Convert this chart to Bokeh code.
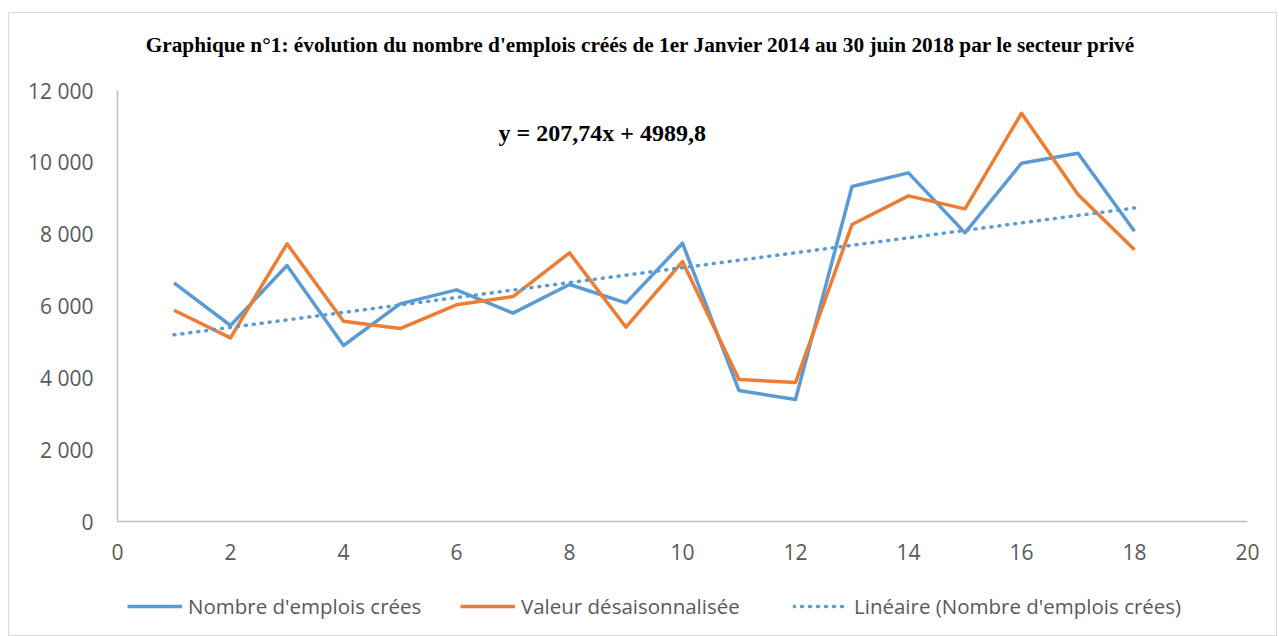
from bokeh.plotting import figure
from bokeh.layouts import column
from bokeh.models import Range1d, FixedTicker, Label, Legend, LegendItem
from bokeh.embed import file_html
from bokeh.resources import INLINE

# ---- data ----
periods = list(range(1, 19))
emplois = [6645, 5457, 7127, 4900, 6060, 6450, 5800, 6598, 6088, 7748,
           3647, 3396, 9326, 9707, 8037, 9975, 10253, 8082]
desaison = [5883, 5114, 7731, 5577, 5373, 6032, 6264, 7480, 5410, 7238,
            3953, 3870, 8268, 9067, 8705, 11367, 9103, 7564]
slope, intercept = 207.74, 4989.8
trend = [slope * x + intercept for x in periods]

x_ticks = [0, 2, 4, 6, 8, 10, 12, 14, 16, 18, 20]
y_ticks = [0, 2000, 4000, 6000, 8000, 10000, 12000]
y_tick_labels = ["0", "2 000", "4 000", "6 000", "8 000", "10 000", "12 000"]

title_text = ("Graphique n°1: évolution du nombre d'emplois créés de 1er Janvier 2014 "
              "au 30 juin 2018 par le secteur privé")
equation_text = "y = 207,74x + 4989,8"
legend_labels = ["Nombre d'emplois crées", "Valeur désaisonnalisée",
                 "Linéaire (Nombre d'emplois crées)"]

BLUE = "#5b9bd5"
ORANGE = "#ed7d31"
GREY_TXT = "#595959"
AXIS = "#bfbfbf"
SANS = "Open Sans"
SERIF = "Liberation Serif"
W = 1267


def bare(height, xr=(0, 1), yr=(0, 1), mbt=0):
    f = figure(width=W, height=height, output_backend="svg", toolbar_location=None,
               x_range=Range1d(*xr), y_range=Range1d(*yr),
               x_axis_location=None, y_axis_location=None,
               min_border_left=108, min_border_right=29,
               min_border_top=mbt, min_border_bottom=0)
    f.outline_line_color = None
    f.grid.visible = False
    return f


# ---- title strip ----
pt = bare(60)
pt.add_layout(Label(x=0.463, y=0.48, text=title_text, text_font=SERIF,
                    text_font_style="bold", text_font_size="21.3px",
                    text_color="#000000", text_align="center",
                    text_baseline="middle"))

# ---- main chart ----
p = figure(width=W, height=498, output_backend="svg", toolbar_location=None,
           x_range=Range1d(0, 20), y_range=Range1d(0, 12000),
           min_border_left=108, min_border_right=29,
           min_border_top=17, min_border_bottom=50)
p.outline_line_color = None
p.grid.visible = False

for ax in (p.xaxis[0], p.yaxis[0]):
    ax.axis_line_color = AXIS
    ax.axis_line_width = 1.5
    ax.major_tick_line_color = None
    ax.minor_tick_line_color = None
    ax.major_label_text_color = GREY_TXT
    ax.major_label_text_font = SANS
    ax.major_label_text_font_size = "21px"

p.xaxis.ticker = FixedTicker(ticks=x_ticks)
p.yaxis.ticker = FixedTicker(ticks=y_ticks)
p.yaxis.major_label_overrides = {t: l for t, l in zip(y_ticks, y_tick_labels)}
p.xaxis.major_label_standoff = 16
p.yaxis.major_label_standoff = 18

r1 = p.line(periods, emplois, line_color=BLUE, line_width=3.5, line_join="round")
r2 = p.line(periods, desaison, line_color=ORANGE, line_width=3.5, line_join="round")
r3 = p.line(periods, trend, line_color=BLUE, line_width=3.5, line_dash="1 7",
            line_cap="round")

p.add_layout(Label(x=8.58, y=10830, text=equation_text, text_font=SERIF,
                   text_font_style="bold", text_font_size="24px",
                   text_color="#000000", text_align="center",
                   text_baseline="middle"))

# ---- legend strip (series drawn outside its visible range; only the legend shows) ----
pl = bare(64, xr=(-20, -19), yr=(-1, 0), mbt=6)
l1 = pl.line(periods, emplois, line_color=BLUE, line_width=3.5)
l2 = pl.line(periods, desaison, line_color=ORANGE, line_width=3.5)
l3 = pl.line(periods, trend, line_color=BLUE, line_width=3.5, line_dash="1 7",
             line_cap="round")
legend = Legend(items=[LegendItem(label=legend_labels[0], renderers=[l1]),
                       LegendItem(label=legend_labels[1], renderers=[l2]),
                       LegendItem(label=legend_labels[2], renderers=[l3])],
                orientation="horizontal", location="left",
                glyph_width=55, label_standoff=6, spacing=36, label_width=236,
                label_text_font=SANS, label_text_font_size="20.5px",
                label_text_color=GREY_TXT, border_line_color=None,
                background_fill_alpha=0, margin=10, padding=0)
pl.add_layout(legend, "center")

layout = column(pt, p, pl, spacing=0)
layout.styles = {"border": "1px solid #d9d9d9"}
layout.margin = (12, 0, 0, 8)

open("out.html", "w").write(file_html(layout, INLINE))
